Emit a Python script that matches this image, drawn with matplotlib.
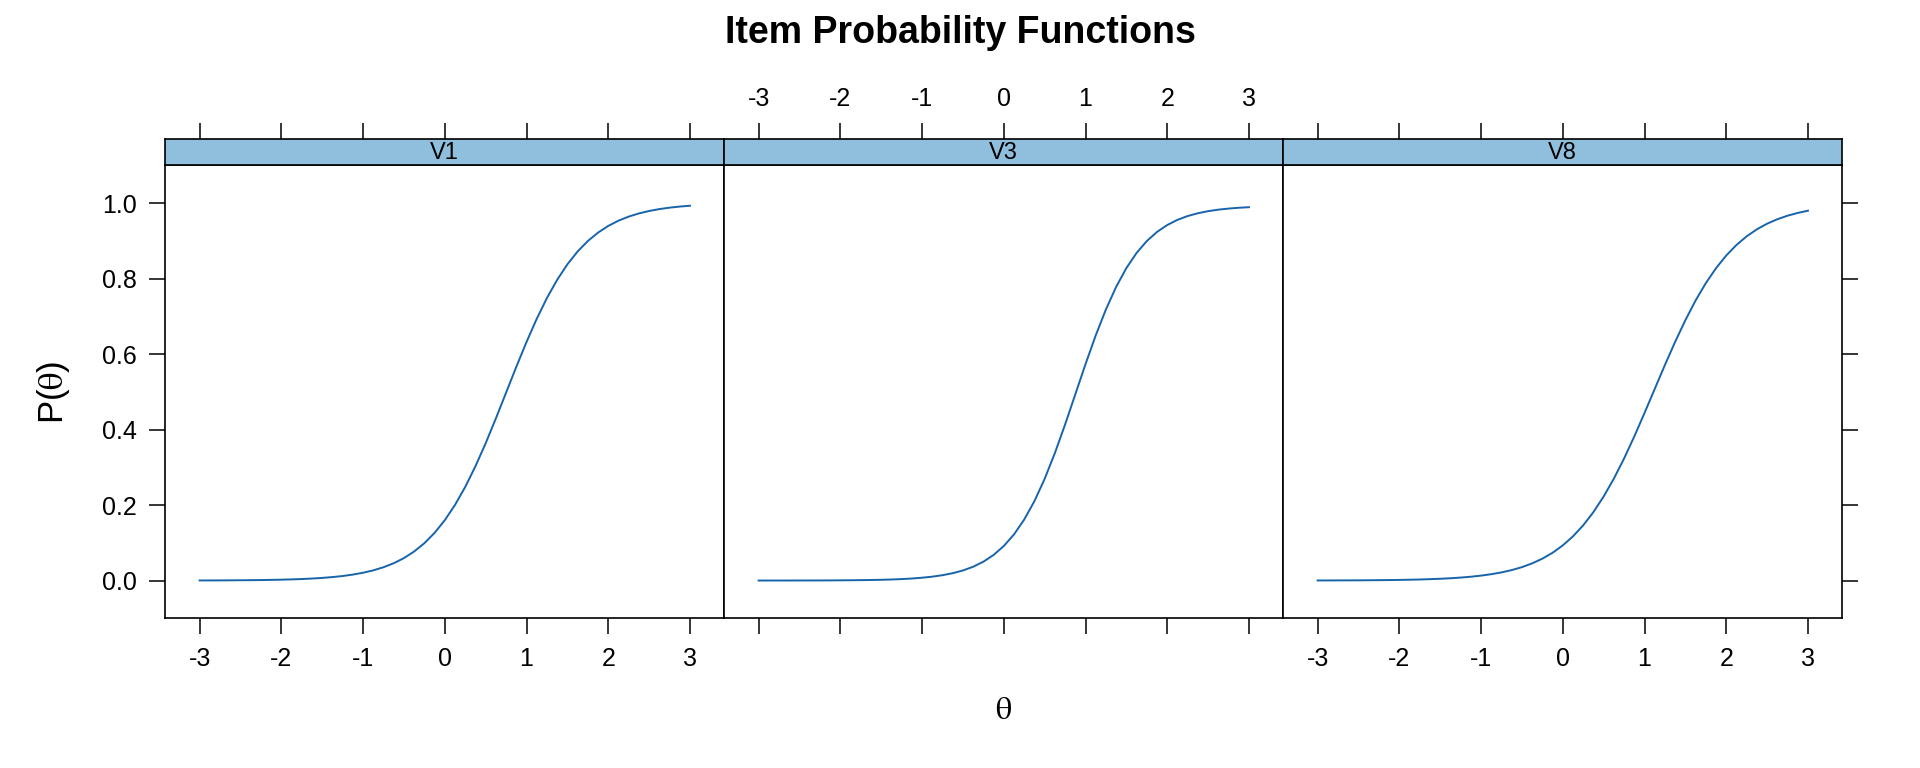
import matplotlib
matplotlib.use("Agg")
import matplotlib.pyplot as plt

plt.rcParams['font.family'] = ['Liberation Sans', 'DejaVu Sans']
plt.rcParams['mathtext.fontset'] = 'stix'

# data
theta = [-3.0, -2.875, -2.75, -2.625, -2.5, -2.375, -2.25, -2.125, -2.0, -1.875, -1.75, -1.625,
         -1.5, -1.375, -1.25, -1.125, -1.0, -0.875, -0.75, -0.625, -0.5, -0.375, -0.25, -0.125,
         0.0, 0.125, 0.25, 0.375, 0.5, 0.625, 0.75, 0.875, 1.0, 1.125, 1.25, 1.375,
         1.5, 1.625, 1.75, 1.875, 2.0, 2.125, 2.25, 2.375, 2.5, 2.625, 2.75, 2.875, 3.0]
p_v1 = [0.0003, 0.0003, 0.0004, 0.0006, 0.0008, 0.0010, 0.0013, 0.0018, 0.0023, 0.0031, 0.0040, 0.0053,
        0.0070, 0.0092, 0.0120, 0.0158, 0.0207, 0.0270, 0.0353, 0.0459, 0.0595, 0.0770, 0.0989, 0.1263,
        0.1599, 0.2004, 0.2480, 0.3028, 0.3637, 0.4295, 0.4978, 0.5661, 0.6320, 0.6934, 0.7486, 0.7967,
        0.8377, 0.8717, 0.8994, 0.9217, 0.9394, 0.9533, 0.9641, 0.9725, 0.9790, 0.9840, 0.9878, 0.9907, 0.9929]
p_v3 = [0.0000, 0.0001, 0.0001, 0.0001, 0.0002, 0.0002, 0.0003, 0.0004, 0.0006, 0.0008, 0.0011, 0.0015,
        0.0020, 0.0028, 0.0039, 0.0054, 0.0075, 0.0103, 0.0142, 0.0195, 0.0267, 0.0366, 0.0499, 0.0678,
        0.0915, 0.1223, 0.1617, 0.2105, 0.2694, 0.3377, 0.4134, 0.4933, 0.5734, 0.6495, 0.7184, 0.7781,
        0.8278, 0.8679, 0.8994, 0.9235, 0.9418, 0.9555, 0.9656, 0.9730, 0.9785, 0.9825, 0.9854, 0.9875, 0.9890]
p_v8 = [0.0002, 0.0003, 0.0004, 0.0005, 0.0006, 0.0008, 0.0010, 0.0013, 0.0017, 0.0022, 0.0028, 0.0037,
        0.0047, 0.0061, 0.0079, 0.0101, 0.0131, 0.0168, 0.0216, 0.0277, 0.0355, 0.0455, 0.0580, 0.0736,
        0.0932, 0.1172, 0.1464, 0.1814, 0.2227, 0.2701, 0.3234, 0.3818, 0.4439, 0.5077, 0.5713, 0.6325,
        0.6898, 0.7420, 0.7878, 0.8275, 0.8611, 0.8890, 0.9119, 0.9304, 0.9453, 0.9571, 0.9665, 0.9739, 0.9797]
items = ["V1", "V3", "V8"]
curves = [p_v1, p_v3, p_v8]
x_ticks = [-3, -2, -1, 0, 1, 2, 3]
y_ticks = [0.0, 0.2, 0.4, 0.6, 0.8, 1.0]
y_tick_labels = ["0.0", "0.2", "0.4", "0.6", "0.8", "1.0"]

line_col = "#1764ab"
strip_col = "#8fbfdc"

W, H = 1920, 768
left, pw = 165.3, 559.0
top, bottom, strip_top = 165.3, 618.3, 139.0

def box(x0, y0, x1, y1):
    return [x0 / W, 1 - y1 / H, (x1 - x0) / W, (y1 - y0) / H]

fig = plt.figure(figsize=(19.2, 7.68), dpi=100)

for i, (name, p) in enumerate(zip(items, curves)):
    x0 = left + i * pw
    ax = fig.add_axes(box(x0, top, x0 + pw, bottom))
    ax.plot(theta, p, color=line_col, lw=1.4)
    ax.set_xlim(-3.42, 3.42)
    ax.set_ylim(-0.1, 1.1)
    ax.set_xticks(x_ticks)
    ax.set_xticklabels([str(t) for t in x_ticks])
    ax.set_yticks(y_ticks)
    ax.set_yticklabels(y_tick_labels)
    ax.tick_params(axis='both', direction='out', length=11.5, width=1.1,
                   labelsize=18, pad=9)
    ax.tick_params(axis='x', bottom=True, top=False, labelbottom=(i != 1))
    ax.tick_params(axis='y', left=(i == 0), labelleft=(i == 0),
                   right=(i == 2), labelright=False)
    for s in ax.spines.values():
        s.set_linewidth(1.2)

    # strip with top ticks above it
    sax = fig.add_axes(box(x0, strip_top, x0 + pw, top))
    sax.set_facecolor(strip_col)
    sax.set_xlim(-3.42, 3.42)
    sax.set_ylim(0, 1)
    sax.set_yticks([])
    sax.set_xticks(x_ticks)
    sax.set_xticklabels([str(t) for t in x_ticks])
    sax.tick_params(axis='x', direction='out', length=11.5, width=1.1, labelsize=18, pad=9,
                    bottom=False, labelbottom=False, top=True, labeltop=(i == 1))
    for s in sax.spines.values():
        s.set_linewidth(1.2)
    sax.text(0.5, 0.45, name, transform=sax.transAxes, ha='center', va='center', fontsize=17)

fig.text(960 / W, 1 - 33 / H, "Item Probability Functions", ha='center', va='center',
         fontsize=27, fontweight='bold')
fig.text(1003.8 / W, 1 - 711 / H, r"$\mathrm{\theta}$", ha='center', va='center', fontsize=23)
fig.text(54 / W, 1 - 392 / H, r"P($\mathrm{\theta}$)", ha='center', va='center',
         fontsize=25, rotation=90)

fig.savefig("out.png", dpi=100)
